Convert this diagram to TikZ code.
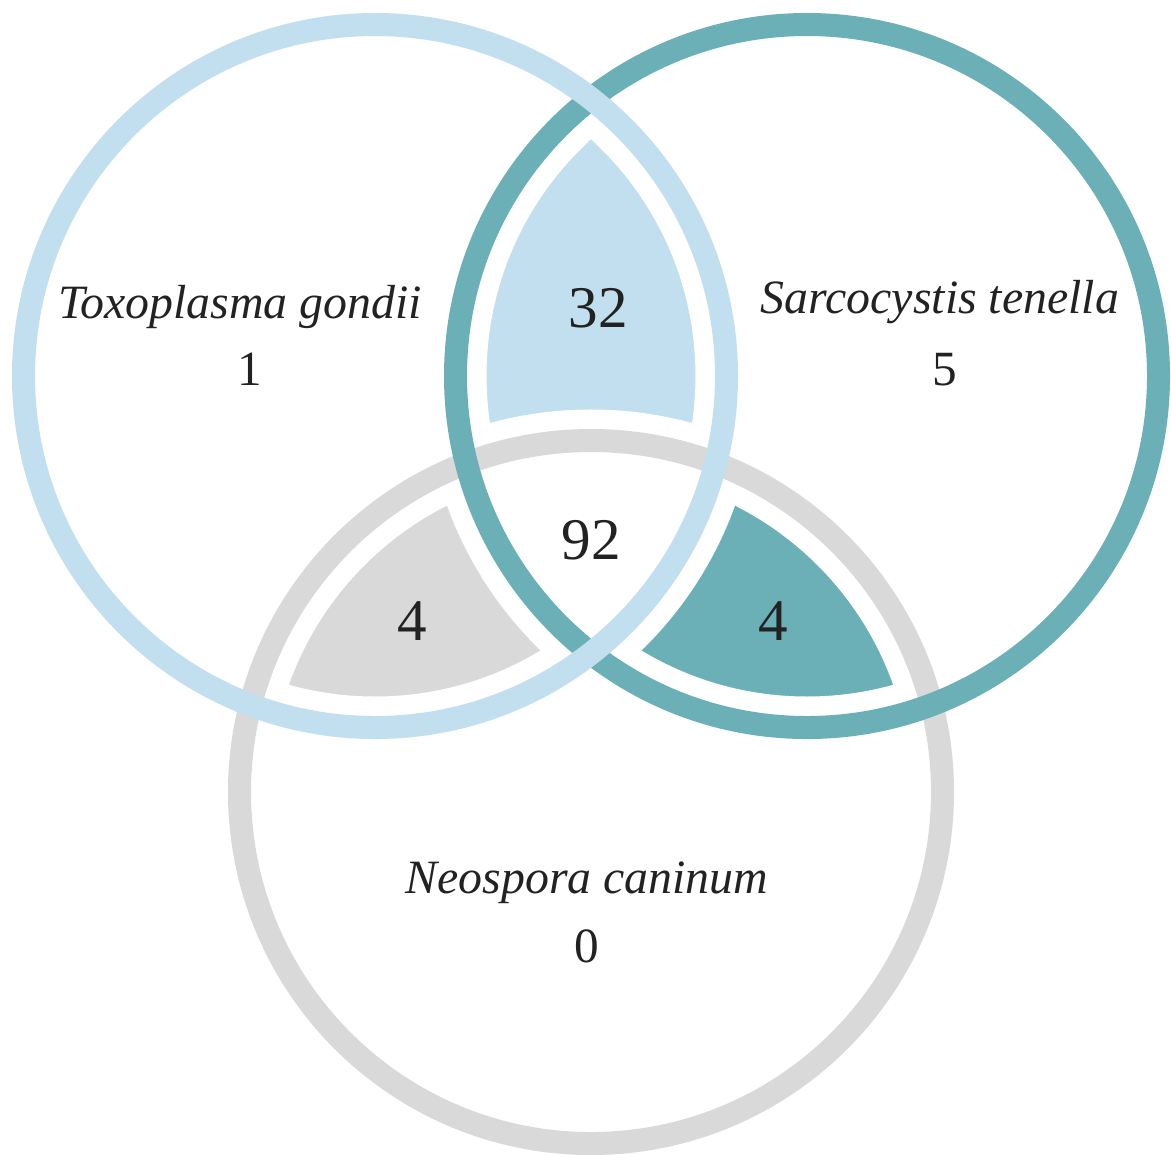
\documentclass[tikz,border=0pt]{standalone}
\usepackage{fontspec}
\setmainfont{Liberation Serif}
\definecolor{cblue}{HTML}{C2DFEF}
\definecolor{cteal}{HTML}{6AB0B6}
\definecolor{cgray}{HTML}{D9D9D9}
\definecolor{ctext}{HTML}{222222}
\begin{document}
\begin{tikzpicture}[x=0.01cm,y=-0.01cm,
  ring/.style={line width=0.23cm},
  gap/.style={draw=white,line width=0.62cm},
  lab/.style={text=ctext,font=\fontsize{13.6}{16}\selectfont\itshape,inner sep=0pt},
  cnt/.style={text=ctext,font=\fontsize{14}{16}\selectfont,inner sep=0pt},
  big/.style={text=ctext,font=\fontsize{16.8}{19}\selectfont,inner sep=0pt}]
\useasboundingbox (0,0) rectangle (1171,1154);
\def\R{351.5}
\coordinate (c1) at (375,376);
\coordinate (c2) at (807,376);
\coordinate (c3) at (591,792);
% intersection fills
\begin{scope}
  \clip (c1) circle[radius=\R];
  \clip (c2) circle[radius=\R];
  \fill[cblue,even odd rule] (0,0) rectangle (1171,1154) (c3) circle[radius=\R];
\end{scope}
\begin{scope}
  \clip (c1) circle[radius=\R];
  \clip (c3) circle[radius=\R];
  \fill[cgray,even odd rule] (0,0) rectangle (1171,1154) (c2) circle[radius=\R];
\end{scope}
\begin{scope}
  \clip (c2) circle[radius=\R];
  \clip (c3) circle[radius=\R];
  \fill[cteal,even odd rule] (0,0) rectangle (1171,1154) (c1) circle[radius=\R];
\end{scope}
% white gaps
\draw[gap] (c1) circle[radius=\R];
\draw[gap] (c2) circle[radius=\R];
\draw[gap] (c3) circle[radius=\R];
% rings
\draw[ring,cgray] (c3) circle[radius=\R];
\draw[ring,cteal] (c2) circle[radius=\R];
\draw[ring,cblue] (c1) circle[radius=\R];
% labels
\node[lab] (tg) at (240,307) {Toxoplasma gondii};
\node[cnt] (n1) at (250,369) {1};
\node[lab] (st) at (940,302) {Sarcocystis tenella};
\node[cnt] (n5) at (945,370) {5};
\node[lab] (nc) at (587,883) {Neospora caninum};
\node[cnt] (n0) at (587,946) {0};
\node[big] (n32) at (598,308) {32};
\node[big] (n92) at (591,540) {92};
\node[big] (n4a) at (412,621) {4};
\node[big] (n4b) at (773,621) {4};
\end{tikzpicture}
\end{document}
